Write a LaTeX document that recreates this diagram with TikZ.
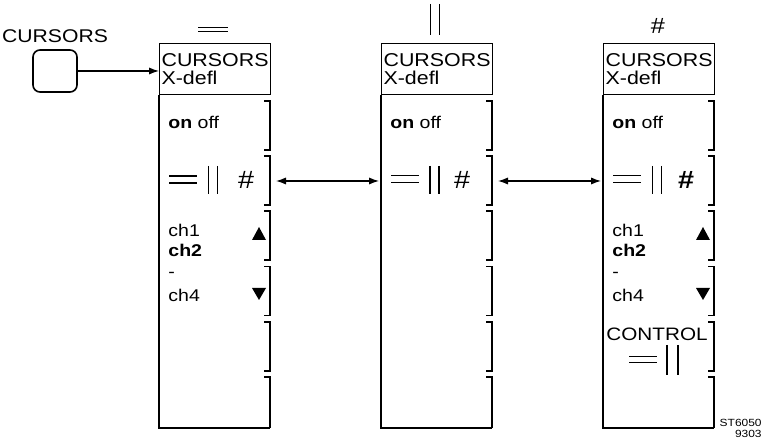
\documentclass[tikz,border=0pt]{standalone}
\usepackage{fontspec}
\setmainfont{Liberation Sans}[FakeStretch=1.15]
\usetikzlibrary{arrows.meta, positioning}

\begin{document}
\begin{tikzpicture}[
  x=0.5pt, y=-0.5pt,
  % stijlen voor de panelen
  kop/.style={draw=black, line width=0.6pt, anchor=north west, minimum width=55.5pt, minimum height=25.5pt, inner sep=1pt, text width=53.5pt, align=left, font=\fontsize{9.3}{9}\selectfont},
  tekst/.style={inner sep=0pt, font=\fontsize{8.5}{9}\selectfont},
  rand/.style={line width=0.6pt},
  haak/.style={line width=0.9pt},
  dun/.style={line width=0.5pt},
  vet/.style={line width=1.4pt},
  pijl/.style={-{Latex[length=5pt,width=3.6pt]}, line width=0.6pt},
  dubbelpijl/.style={{Latex[length=5pt,width=3.6pt]}-{Latex[length=5pt,width=3.6pt]}, line width=0.6pt},
  knopstijl/.style={draw=black, line width=0.8pt, rounded corners=3.5pt, minimum width=22pt, minimum height=21pt, inner sep=0pt},
]
\useasboundingbox (0,0) rectangle (764,442);

% knop links
\node[knopstijl] (knop) at (55,71) {};
\node[tekst, font=\fontsize{9.2}{9}\selectfont, above=3pt of knop] (knoptekst) {CURSORS};

% de drie panelen
\foreach \x/\n/\a/\b/\c/\h in {159/A/vet/dun/\mdseries/87, 381/B/dun/vet/\mdseries/81, 603/C/dun/dun/\bfseries/83} {
  \node[kop] (kop\n) at (\x,43) {CURSORS\\X-defl};
  \draw[rand] (kop\n.south west) -- (\x,428) -- (\x+111,428);
  \foreach \i in {0,...,4}
    \draw[haak] (\x+105,101+55.2*\i) -- (\x+111,101+55.2*\i) -- (\x+111,150+55.2*\i) -- (\x+105,150+55.2*\i);
  \draw[haak] (\x+105,377) -- (\x+111,377) -- (\x+111,428);
  \node[tekst, anchor=base west] (aan\n) at (\x+9,129) {\textbf{on} off};
  % rij met = || #
  \coordinate (rijL\n) at (\x,181);
  \coordinate (rijR\n) at (\x+111,181);
  \draw[\a] (\x+10,176) -- (\x+38,176) (\x+10,183) -- (\x+38,183);
  \draw[\b] (\x+49,166) -- (\x+49,194) (\x+58,166) -- (\x+58,194);
  \node[inner sep=0pt, font=\fontsize{12.5}{12}\c\selectfont] (hekje\n) at (\x+\h,180) {\#};
}

% symbolen boven de panelen
\draw[dun] (198,28) -- (228,28) (198,32) -- (228,32);
\draw[dun] (430,4) -- (430,35) (439,4) -- (439,35);
\node[inner sep=0pt, font=\fontsize{11}{11}\selectfont] (hekjetop) at (658,26) {\#};

% kanalen
\foreach \x/\n in {159/A, 603/C} {
  \node[tekst, anchor=base west] (kanaalE\n) at (\x+9,237) {ch1};
  \node[tekst, anchor=base west] (kanaalT\n) at (\x+9,257) {\textbf{ch2}};
  \node[tekst, anchor=base west] (kanaalS\n) at (\x+9,278) {-};
  \node[tekst, anchor=base west] (kanaalV\n) at (\x+9,302) {ch4};
  \fill (\x+93,240) -- (\x+100,227) -- (\x+107,240) -- cycle;
  \fill (\x+93,288) -- (\x+107,288) -- (\x+100,300) -- cycle;
}

% control
\node[tekst, font=\fontsize{9}{9}\selectfont, anchor=base west] (controle) at (606,341) {CONTROL};
\draw[dun] (629,357) -- (657,357) (629,363) -- (657,363);
\draw[vet] (667,345) -- (667,375) (678,345) -- (678,375);

% pijlen
\draw[pijl] (knop.east) -- (knop.east -| kopA.west);
\draw[dubbelpijl] ([xshift=3pt]rijRA) -- ([xshift=-1pt]rijLB);
\draw[dubbelpijl] ([xshift=3pt]rijRB) -- ([xshift=-1pt]rijLC);

\node[inner sep=0pt, align=right, anchor=east, font=\fontsize{5.2}{5.5}\selectfont] (stempel) at (762,428) {ST6050\\9303};
\end{tikzpicture}
\end{document}
